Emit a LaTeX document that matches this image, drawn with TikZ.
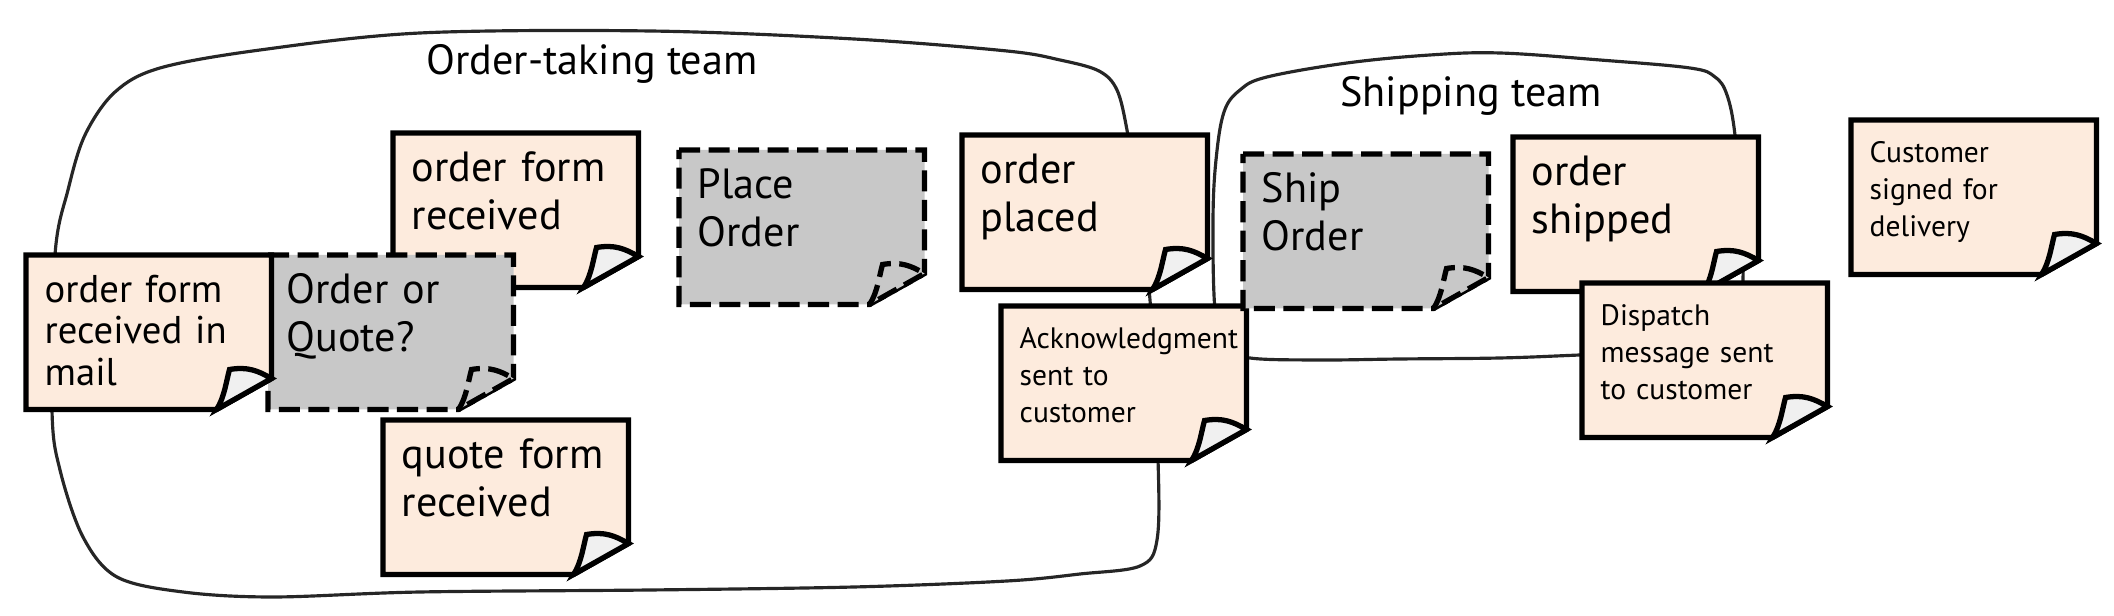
\documentclass[tikz,border=0pt]{standalone}
\usepackage{fontspec}
\setmainfont{PT Sans}
\usetikzlibrary{calc, backgrounds}

\definecolor{peach}{RGB}{253,235,221}
\definecolor{ash}{RGB}{200,200,200}
\definecolor{curl}{RGB}{240,240,240}

\begin{document}
\begin{tikzpicture}[
        x=0.01cm, y=-0.01cm,
        % Styles des notes
        postit/.style={anchor=north west, align=left,
                    inner xsep=0.18cm, inner ysep=0pt, text width=2.08cm,
                    text height=0.48cm, text depth=1.05cm,
                    font=\fontsize{12}{13.7}\selectfont},
        midtxt/.style={font=\fontsize{11}{11.7}\selectfont,
                    text height=0.47cm, text depth=1.06cm},
        smalltxt/.style={font=\fontsize{8.4}{10.5}\selectfont,
                    text height=0.42cm, text depth=1.11cm},
        teamlabel/.style={anchor=base, font=\fontsize{12}{14}\selectfont},
        % Styles des contours
        team/.style={draw=black!85, line width=0.9pt},
        peachnote/.style={draw=black, fill=peach, line width=1.5pt},
        ashnote/.style={draw=black, fill=ash, line width=1.5pt,
                    dash pattern=on 6pt off 2.4pt},
        peachcurl/.style={draw=black, fill=curl, line width=1.5pt},
        ashcurl/.style={ashnote},
    ]
        \useasboundingbox (0,0) rectangle (2114,616);

        %% ── Notes ──

        \node[postit]           (formrecv)   at (393,133)  {order form\\received};
        \node[postit]           (ordquote)   at (268,255)  {Order or\\Quote?};
        \node[postit, midtxt]   (mailrecv)   at (26,255)   {order form\\received in\\mail};
        \node[postit]           (quoterecv)  at (383,420)  {quote form\\received};
        \node[postit]           (placeorder) at (679,150)  {Place\\Order};
        \node[postit]           (placed)     at (962,135)  {order\\placed};
        \node[postit, smalltxt] (ack)        at (1001,306) {Acknowledgment\\sent to\\customer};
        \node[postit]           (shiporder)  at (1243,154) {Ship\\Order};
        \node[postit]           (shipped)    at (1513,137) {order\\shipped};
        \node[postit, smalltxt] (dispatch)   at (1582,283) {Dispatch\\message sent\\to customer};
        \node[postit, smalltxt] (signed)     at (1851,120) {Customer\\signed for\\delivery};

        % Titres des équipes
        \node[teamlabel] (ordtitle)  at (592,75)   {Order-taking team};
        \node[teamlabel] (shiptitle) at (1471,107) {Shipping team};

        %% ── Contours (sous le texte) ──

        \begin{scope}[on background layer]
            \draw[team] plot[smooth cycle, tension=0.55] coordinates {
                (55,255) (52,410) (60,470) (83,537) (117,577) (183,592) (273,597)
                (420,592) (650,590) (854,587) (1007,581) (1080,574) (1140,566)
                (1157,540) (1158,459) (1150,300) (1136,190) (1127,130)
                (1117,90) (1099,71) (1060,60) (1007,51) (854,39) (650,31) (420,33)
                (260,50) (160,68) (115,92) (85,135) (68,190)};
            \draw[team] plot[smooth cycle, tension=0.6] coordinates {
                (1250,358) (1225,347) (1215,310) (1213,220) (1216,160) (1224,112)
                (1240,90) (1267,77) (1347,63) (1430,55) (1500,53) (1600,60)
                (1690,68) (1715,77) (1727,95) (1735,135) (1742,220) (1743,280)
                (1740,330) (1700,350) (1580,355) (1500,358) (1400,359) (1320,360)};

            % Une feuille par note, coin corné en bas à droite
            \foreach \n/\s/\c in {formrecv/peachnote/peachcurl, ordquote/ashnote/ashcurl,
                    mailrecv/peachnote/peachcurl, quoterecv/peachnote/peachcurl,
                    placeorder/ashnote/ashcurl, placed/peachnote/peachcurl,
                    ack/peachnote/peachcurl, shiporder/ashnote/ashcurl,
                    shipped/peachnote/peachcurl, dispatch/peachnote/peachcurl,
                    signed/peachnote/peachcurl} {
                \draw[\s] (\n.north west) -- (\n.north east)
                    -- ($(\n.south east)+(0,-31)$) coordinate (p2)
                    -- ($(\n.south east)+(-55,0)$) coordinate (p1)
                    -- (\n.south west) -- cycle;
                \draw[\c] (p1) .. controls +(8,-12) and +(-3,10) .. ($(\n.south east)+(-42,-40)$)
                    .. controls +(18,-3) and +(-14,-8) .. (p2) -- cycle;
            }
        \end{scope}

    \end{tikzpicture}
\end{document}
